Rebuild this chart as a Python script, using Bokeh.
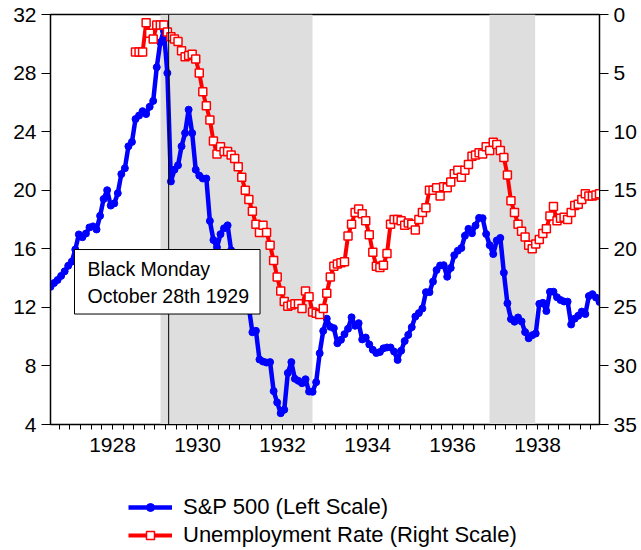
import numpy as np
from bokeh.plotting import figure
from bokeh.layouts import column
from bokeh.models import (Range1d, LinearAxis, FixedTicker, BoxAnnotation, Span, Label,
                          Legend, LegendItem, PrintfTickFormatter, ColumnDataSource)
from bokeh.embed import file_html
from bokeh.resources import INLINE

# ---------------- data ----------------
start_year = 1927
sp500 = [
    13.40, 13.66, 13.87, 14.15, 14.46, 14.84, 15.12, 15.95, 16.98, 16.79, 17.04, 17.46,  # 1927
    17.53, 17.32, 18.25, 19.40, 20.00, 18.95, 19.10, 19.80, 21.10, 21.50, 23.00, 23.30,  # 1928
    24.86, 25.10, 25.40, 25.20, 25.70, 26.10, 28.40, 30.10, 30.90, 28.00, 20.60, 21.40,  # 1929
    21.70, 23.00, 23.90, 25.50, 23.90, 21.40, 21.00, 20.80, 20.80, 17.90, 16.60, 16.10,  # 1930
    17.00, 17.40, 17.60, 15.90, 14.30, 13.90, 14.30, 13.90, 12.00, 10.30, 10.40, 8.44,   # 1931
    8.30, 8.23, 8.26, 6.28, 5.51, 4.77, 5.01, 7.52, 8.26, 7.12, 6.98, 6.82,              # 1932
    7.09, 6.25, 6.23, 6.89, 8.87, 10.39, 11.23, 10.67, 10.58, 9.55, 9.78, 10.17,         # 1933
    10.54, 11.32, 10.74, 10.92, 9.81, 9.94, 9.47, 9.10, 8.88, 8.95, 9.20, 9.26,          # 1934
    9.26, 8.98, 8.41, 9.04, 9.70, 10.12, 10.65, 11.37, 11.61, 11.92, 13.04, 13.04,       # 1935
    13.76, 14.55, 14.86, 14.88, 14.09, 14.69, 15.56, 15.87, 16.05, 16.89, 17.36, 17.06,  # 1936
    17.59, 18.11, 18.09, 17.01, 16.25, 15.64, 16.57, 16.74, 14.37, 12.28, 11.20, 11.02,  # 1937
    11.31, 11.04, 10.31, 9.89, 10.10, 10.21, 12.24, 12.31, 11.75, 13.06, 13.07, 12.69,   # 1938
    12.50, 12.40, 12.39, 10.83, 11.23, 11.43, 11.71, 11.54, 12.77, 12.90, 12.67, 12.37,  # 1939
]

unemp_start_year = 1929
unemployment = [
    3.2, 3.2, 3.2, 0.7, 1.6, 2.1, 0.9, 0.9, 0.9, 1.5, 1.9, 2.1,          # 1929
    2.3, 3.1, 3.6, 3.5, 3.4, 3.8, 5.0, 6.6, 7.8, 9.0, 10.8, 11.9,        # 1930
    11.3, 11.7, 11.7, 12.0, 12.3, 13.0, 13.9, 15.0, 15.8, 16.8, 17.9, 18.6,  # 1931
    18.0, 18.6, 19.7, 21.0, 22.4, 23.6, 24.5, 24.9, 24.8, 24.7, 24.7, 25.1,  # 1932
    23.6, 24.1, 25.4, 25.5, 25.6, 25.1, 23.8, 22.4, 21.5, 21.3, 21.2, 21.1,  # 1933
    18.9, 17.9, 16.9, 16.6, 17.0, 17.6, 18.8, 20.3, 21.5, 21.6, 21.4, 20.4,  # 1934
    17.9, 17.5, 17.5, 17.6, 18.0, 17.8, 17.9, 18.4, 17.5, 16.9, 16.5, 15.0,  # 1935
    15.0, 14.8, 15.5, 14.7, 14.8, 14.3, 13.6, 13.3, 13.9, 13.3, 12.8, 12.1,  # 1936
    12.0, 11.8, 11.9, 11.3, 11.6, 10.9, 11.1, 11.6, 12.2, 13.7, 15.9, 16.9,  # 1937
    17.9, 18.5, 19.0, 19.7, 20.0, 19.6, 19.2, 18.7, 18.3, 17.2, 16.4, 17.6,  # 1938
    17.4, 17.3, 17.5, 16.9, 16.3, 16.2, 15.8, 15.3, 15.5, 15.5, 15.4, 15.3,  # 1939
]

recessions = [(1929.588, 1933.164), (1937.328, 1938.403)]
black_monday = 1929.78
year_labels = [1928, 1930, 1932, 1934, 1936, 1938]
left_ticks = [4, 8, 12, 16, 20, 24, 28, 32]
right_ticks = [0, 5, 10, 15, 20, 25, 30, 35]
annotation_text = "Black Monday\nOctober 28th 1929"
sp_label = "S&P 500 (Left Scale)"
un_label = "Unemployment Rate (Right Scale)"

# ---------------- derived ----------------
sp_t = start_year + np.arange(len(sp500)) / 12.0
un_t = unemp_start_year + np.arange(len(unemployment)) / 12.0
sp_src = ColumnDataSource(dict(t=sp_t, v=sp500))
un_src = ColumnDataSource(dict(t=un_t, v=unemployment))

FONT = "Liberation Sans"
FS = "21px"

SP_STYLE = dict(line_color="#0000FF", line_width=4.5, line_join="round")
SP_MARK = dict(marker="circle", size=7, fill_color="#0000FF", line_color="#0000FF")
UN_STYLE = dict(line_color="#FF0000", line_width=4, line_join="round")
UN_MARK = dict(marker="square", size=8, fill_color="white", line_color="#FF0000", line_width=1.5)

p = figure(width=641, height=464, output_backend="svg", toolbar_location=None,
           x_range=Range1d(start_year, sp_t[-1]), y_range=Range1d(4, 32),
           min_border_left=50, min_border_right=42, min_border_top=14, min_border_bottom=40,
           x_axis_type=None, y_axis_type=None)
p.grid.visible = False
p.outline_line_color = "black"
p.outline_line_width = 1.5
p.background_fill_color = "white"

p.extra_y_ranges = {"u": Range1d(35, 0)}

yl = LinearAxis(ticker=FixedTicker(ticks=left_ticks))
yr = LinearAxis(y_range_name="u", ticker=FixedTicker(ticks=right_ticks))
for ax in (yl, yr):
    ax.major_tick_out = 9
    ax.major_tick_in = 0
    ax.minor_tick_line_color = None
    ax.axis_line_color = "black"
    ax.major_tick_line_color = "black"
    ax.major_label_text_font = FONT
    ax.major_label_text_font_size = FS
    ax.major_label_text_color = "black"
    ax.major_label_standoff = 5
p.add_layout(yl, "left")
p.add_layout(yr, "right")

# x axis: year labels start at the year boundary; quarterly tick marks
minor_x = [start_year + q / 4 - 1 / 24 for q in range(1, 13 * 4)]
xl = LinearAxis(ticker=FixedTicker(ticks=[y + 0.46 for y in year_labels], minor_ticks=minor_x),
                formatter=PrintfTickFormatter(format="%d"))
xl.axis_line_color = "black"
xl.major_tick_line_color = None
xl.major_tick_out = 10
xl.major_tick_in = 0
xl.minor_tick_line_color = "black"
xl.minor_tick_out = 5
xl.minor_tick_in = 0
xl.major_label_standoff = 3
xl.major_label_text_font = FONT
xl.major_label_text_font_size = FS
xl.major_label_text_color = "black"
p.add_layout(xl, "below")

# recession shading
for a, b in recessions:
    p.add_layout(BoxAnnotation(left=a, right=b, fill_color="#DEDEDE", fill_alpha=1.0,
                               line_color=None, level="underlay"))

# series
p.line("t", "v", source=sp_src, **SP_STYLE)
p.scatter("t", "v", source=sp_src, **SP_MARK)
p.line("t", "v", source=un_src, y_range_name="u", **UN_STYLE)
p.scatter("t", "v", source=un_src, y_range_name="u", **UN_MARK)

p.add_layout(Span(location=black_monday, dimension="height", line_color="black", line_width=1))

p.add_layout(Label(x=1927.565, y=15.95, text=annotation_text, anchor="top_left",
                   text_font=FONT, text_font_size="19.5px", text_color="black",
                   text_line_height=1.25,
                   background_fill_color="white", border_line_color="black", border_line_width=1,
                   padding=dict(left=13, right=11, top=8, bottom=7)))

# ---------------- legend strip below the chart ----------------
# (same series, but this strip's x range lies outside the data, so only the legend shows)
lg = figure(width=641, height=86, output_backend="svg", toolbar_location=None,
            x_range=Range1d(0, 1), y_range=Range1d(0, 1), min_border=0,
            x_axis_type=None, y_axis_type=None)
lg.grid.visible = False
lg.outline_line_color = None
l1 = lg.line("t", "v", source=sp_src, **SP_STYLE)
m1 = lg.scatter("t", "v", source=sp_src, **SP_MARK)
l2 = lg.line("t", "v", source=un_src, **UN_STYLE)
m2 = lg.scatter("t", "v", source=un_src, **UN_MARK)
legend = Legend(items=[LegendItem(label=sp_label, renderers=[l1, m1]),
                       LegendItem(label=un_label, renderers=[l2, m2])],
                location=(78, 2), orientation="vertical",
                label_text_font=FONT, label_text_font_size="22px", label_text_color="black",
                glyph_width=44, glyph_height=20, label_standoff=11, label_height=26,
                spacing=2, padding=0, margin=0,
                border_line_color=None, background_fill_alpha=0)
lg.add_layout(legend, "center")

open("out.html", "w").write(file_html(column(p, lg, spacing=0), INLINE))
